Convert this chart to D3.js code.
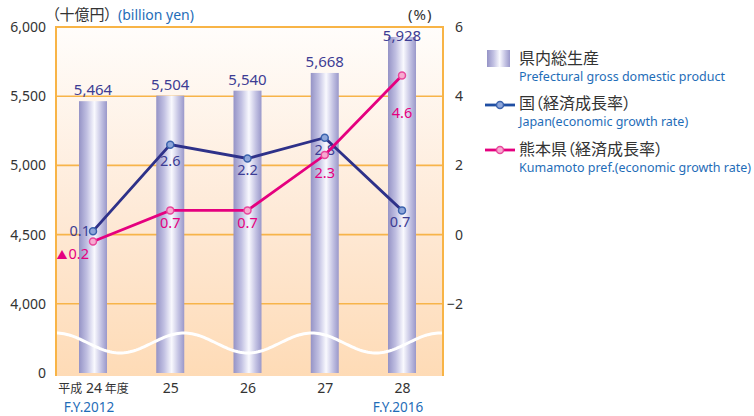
<!DOCTYPE html>
<html>
<head>
<meta charset="utf-8">
<script src="https://cdn.jsdelivr.net/npm/d3@7"></script>
<style>
  body { margin: 0; background: #fff; }
  text { font-family: "Noto Sans", "Noto Sans CJK JP", sans-serif; }
  .cjk { font-family: "Noto Sans CJK JP", sans-serif; font-feature-settings: "palt"; }
</style>
</head>
<body>
<svg id="chart" width="754" height="416"></svg>
<script>
// Fiscal years (Heisei era) and their western-calendar captions
const years = ["平成 24 年度", "25", "26", "27", "28"];
const fiscalYears = ["F.Y.2012", "", "", "", "F.Y.2016"];

// Prefectural gross domestic product, billion yen
const gdp = [5464, 5504, 5540, 5668, 5928];

// Economic growth rates, %
const japanGrowth = [0.1, 2.6, 2.2, 2.8, 0.7];
const kumamotoGrowth = [-0.2, 0.7, 0.7, 2.3, 4.6];

// Axis ticks
const leftTicks = [0, 4000, 4500, 5000, 5500, 6000];
const leftGrid = [4000, 4500, 5000, 5500];
const rightTicks = [-2, 0, 2, 4, 6];

const svg = d3.select("#chart");
const plot = { left: 56, right: 443, top: 27, bottom: 376, base: 373 };

const x = d3.scalePoint().domain(years).range([93, 402]);
const yR = d3.scaleLinear().domain([-4, 6]).range([plot.base, plot.top]);
// broken value axis: 0 sits at the base, 4,000–6,000 share the rate grid
const y = d3.scaleLinear().domain([0, 4000, 6000]).range([plot.base, yR(-2), plot.top]);

const defs = svg.append("defs");
const bg = defs.append("linearGradient").attr("id", "bgGrad")
  .attr("x1", 0).attr("y1", 0).attr("x2", 0).attr("y2", 1);
bg.append("stop").attr("offset", "0%").attr("stop-color", "#fffdfb");
bg.append("stop").attr("offset", "55%").attr("stop-color", "#fee9d6");
bg.append("stop").attr("offset", "100%").attr("stop-color", "#fedbb6");

const barGrad = defs.append("linearGradient").attr("id", "barGrad")
  .attr("x1", 0).attr("y1", 0).attr("x2", 1).attr("y2", 0);
[["0%", "#9593c6"], ["28%", "#c1c0e2"], ["55%", "#f9f9fe"], ["80%", "#c2c1e2"], ["100%", "#9a98ca"]]
  .forEach(([o, c]) => barGrad.append("stop").attr("offset", o).attr("stop-color", c));

// plot background
svg.append("rect")
  .attr("x", plot.left).attr("y", plot.top)
  .attr("width", plot.right - plot.left).attr("height", plot.bottom - plot.top)
  .attr("fill", "url(#bgGrad)");

// gridlines
svg.append("g").selectAll("line").data(leftGrid).join("line")
  .attr("x1", plot.left).attr("x2", plot.right)
  .attr("y1", d => y(d)).attr("y2", d => y(d))
  .attr("stroke", "#f7b44a").attr("stroke-width", 1.6);

// bars
const barW = 28;
svg.append("g").selectAll("rect").data(gdp).join("rect")
  .attr("x", (d, i) => x(years[i]) - barW / 2)
  .attr("y", d => y(d))
  .attr("width", barW)
  .attr("height", d => y(0) - y(d))
  .attr("fill", "url(#barGrad)");

// bar value labels
svg.append("g").selectAll("text").data(gdp).join("text")
  .attr("x", (d, i) => x(years[i]))
  .attr("y", d => Math.max(y(d) - 6, plot.top + 14))
  .attr("text-anchor", "middle")
  .attr("font-size", 15)
  .attr("fill", "#3d3d94")
  .text(d3.format(","));

// axis break wave
const waveXs = d3.range(plot.left, plot.right + 0.5, 2);
svg.append("path")
  .attr("d", d3.line().x(d => d).y(d => 343 - 10 * Math.cos(2 * Math.PI * (d - plot.left) / 128))(waveXs))
  .attr("fill", "none").attr("stroke", "#fff").attr("stroke-width", 3);

// frame: left, top, right
svg.append("path")
  .attr("d", `M${plot.left},${plot.bottom}V${plot.top}H${plot.right}V${plot.bottom}`)
  .attr("fill", "none").attr("stroke", "#f8b446").attr("stroke-width", 2);

// growth rate lines; negative rates are written with a ▲ mark
const series = [
  { values: japanGrowth, line: "#2e3189", dotStroke: "#3b63ad", dotFill: "#8ea6da", label: "#3d3d94",
    place: [{ dx: -3, dy: 5, anchor: "end" }, { dx: 0, dy: 21 }, { dx: 0, dy: 17 }, { dx: 0, dy: 17 }, { dx: -2, dy: 17 }] },
  { values: kumamotoGrowth, line: "#e5007f", dotStroke: "#e8489c", dotFill: "#f7aad0", label: "#e5007f",
    place: [{ dx: -4, dy: 17, anchor: "end" }, { dx: 0, dy: 18 }, { dx: 0, dy: 18 }, { dx: 0, dy: 23 }, { dx: 0, dy: 43 }] }
];
const lineGen = d3.line().x((d, i) => x(years[i])).y(d => yR(d));
series.forEach(s => {
  const g = svg.append("g");
  g.append("path").attr("d", lineGen(s.values))
    .attr("fill", "none").attr("stroke", s.line).attr("stroke-width", 2.8);
  g.selectAll("circle").data(s.values).join("circle")
    .attr("cx", (d, i) => x(years[i])).attr("cy", d => yR(d)).attr("r", 3.5)
    .attr("fill", s.dotFill).attr("stroke", s.dotStroke).attr("stroke-width", 1.5);
  g.selectAll("text").data(s.values).join("text")
    .attr("x", (d, i) => x(years[i]) + s.place[i].dx)
    .attr("y", (d, i) => yR(d) + s.place[i].dy)
    .attr("text-anchor", (d, i) => s.place[i].anchor || "middle")
    .attr("font-size", 14.5)
    .attr("fill", s.label)
    .each(function (d) {
      const t = d3.select(this);
      if (d < 0) {
        t.append("tspan").attr("font-size", 11).attr("dx", 0).text("▲");
        t.append("tspan").attr("dx", 1).text(Math.abs(d).toFixed(1));
      } else {
        t.text(d.toFixed(1));
      }
    });
});

// left axis
const axL = svg.append("g").attr("transform", `translate(${plot.left},0)`)
  .call(d3.axisLeft(y).tickValues(leftTicks).tickFormat(d3.format(",")).tickSize(0).tickPadding(10));
axL.select(".domain").remove();
axL.selectAll("text").attr("font-size", 14).attr("fill", "#333").attr("font-family", null);

// right axis
const axR = svg.append("g").attr("transform", `translate(${plot.right},0)`)
  .call(d3.axisRight(yR).tickValues(rightTicks).tickSize(0));
axR.select(".domain").remove();
axR.selectAll("text").attr("x", 20).attr("text-anchor", "end")
  .attr("font-size", 14).attr("fill", "#333").attr("font-family", null);

// bottom axis
const axB = svg.append("g").attr("transform", `translate(0,${plot.bottom})`)
  .call(d3.axisBottom(x).tickSize(0).tickPadding(7));
axB.select(".domain").remove();
axB.selectAll("text").attr("font-size", 14).attr("fill", "#333").attr("font-family", null)
  .each(function (d) {
    const t = d3.select(this);
    const runs = d.match(/[0-9]+|[^0-9 ]+/g);
    if (runs.length < 2) return;
    t.text(null);
    runs.forEach((r, k) => {
      const isNum = /^[0-9]+$/.test(r);
      t.append("tspan").attr("class", isNum ? null : "cjk")
        .attr("font-size", isNum ? 14 : 12)
        .text((k > 0 ? " " : "") + r);
    });
  });

// fiscal year captions
svg.append("g").selectAll("text").data(fiscalYears).join("text")
  .attr("x", (d, i) => x(years[i]) - 4)
  .attr("y", 411.5)
  .attr("text-anchor", "middle")
  .attr("font-size", 13.5)
  .attr("fill", "#1f6db8")
  .text(d => d);

// unit captions
svg.append("text").attr("class", "cjk").attr("x", 52).attr("y", 20)
  .attr("font-size", 15).attr("fill", "#333").text("（十億円）");
svg.append("text").attr("x", 118).attr("y", 20)
  .attr("font-size", 14).attr("fill", "#1f6db8").text("(billion yen)");
svg.append("text").attr("x", 408).attr("y", 20)
  .attr("font-size", 15).attr("fill", "#333").attr("letter-spacing", 1).text("(%)");

// legend
const lg = svg.append("g");
lg.append("rect").attr("x", 487).attr("y", 50).attr("width", 23).attr("height", 17).attr("fill", "url(#barGrad)");
const legendLines = [
  { y: 105, line: "#1f4fa3", dotStroke: "#3b63ad", dotFill: "#8ea6da" },
  { y: 150, line: "#e5007f", dotStroke: "#e8489c", dotFill: "#f7aad0" }
];
legendLines.forEach(l => {
  lg.append("line").attr("x1", 485).attr("x2", 515).attr("y1", l.y).attr("y2", l.y)
    .attr("stroke", l.line).attr("stroke-width", 2.8);
  lg.append("circle").attr("cx", 500).attr("cy", l.y).attr("r", 3.5)
    .attr("fill", l.dotFill).attr("stroke", l.dotStroke).attr("stroke-width", 1.5);
});
const legendText = [
  { jp: "県内総生産", en: "Prefectural gross domestic product", y: 64 },
  { jp: "国（経済成長率）", en: "Japan(economic growth rate)", y: 109 },
  { jp: "熊本県（経済成長率）", en: "Kumamoto pref.(economic growth rate)", y: 155 }
];
legendText.forEach(t => {
  lg.append("text").attr("class", "cjk").attr("x", 519).attr("y", t.y)
    .attr("font-size", 16).attr("fill", "#333").text(t.jp);
  lg.append("text").attr("x", 519).attr("y", t.y + 16.5)
    .attr("font-size", 12.5).attr("fill", "#1f6db8").text(t.en);
});
</script>
</body>
</html>
